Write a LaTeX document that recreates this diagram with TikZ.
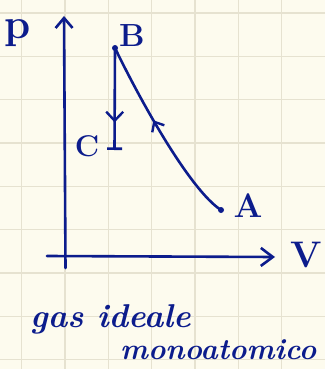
\documentclass[tikz,border=0pt]{standalone}
\usepackage{fontspec}
\setmainfont{Latin Modern Roman}
\usetikzlibrary{arrows.meta,decorations.markings}
\definecolor{paper}{RGB}{253,251,238}
\definecolor{gridc}{RGB}{230,226,208}
\definecolor{ink}{RGB}{12,28,140}
\tikzset{
  inkline/.style={draw=ink,line width=2.6pt,line cap=round,line join=round},
  gridline/.style={draw=gridc,line width=1.4pt},
  lbl/.style={text=ink,font=\bfseries\fontsize{#1}{#1}\selectfont,inner sep=0pt,anchor=base},
  note/.style={text=ink,font=\bfseries\itshape\fontsize{#1}{#1}\selectfont,inner sep=0pt,anchor=base west},
  dotpt/.style={circle,fill=ink,minimum size=6pt,inner sep=0pt},
  midarrow/.style={postaction={decorate,decoration={markings,mark=at position #1 with {\arrow[ink,line width=2.4pt]{Straight Barb[length=9pt,width=17pt]}}}}}
}
\begin{document}
\begin{tikzpicture}[x=1pt,y=-1pt]
\fill[paper] (0,0) rectangle (325,369);
\useasboundingbox (0,0) rectangle (325,369);
% grid
\foreach \gx in {21.7,65,108.3,151.7,195,238.3,281.7}
  \draw[gridline] (\gx,0) -- (\gx,369);
\foreach \gy in {13,56.3,99.7,143,186.3,229.7,273,316.3,359.7}
  \draw[gridline] (0,\gy) -- (325,\gy);
% axes
\coordinate (ybot) at (65.5,268);
\coordinate (ytop) at (64,16);
\coordinate (xleft) at (47,256);
\coordinate (xright) at (275,257);
\draw[inkline,-{Straight Barb[length=10pt,width=17pt]}] (ybot) -- (ytop);
\draw[inkline,-{Straight Barb[length=12pt,width=18pt]}] (xleft) -- (xright);
\node[lbl=42] (plab) at (18,38) {p};
\node[lbl=37] (vlab) at (306,267) {V};
% points
\node[dotpt] (B) at (115,48) {};
\coordinate (C) at (114.5,150);
\node[dotpt] (A) at (221,210) {};
\node[lbl=32] (blab) at (132,47) {B};
\node[lbl=30] (clab) at (87,156) {C};
\node[lbl=34] (alab) at (248,217) {A};
% B -> C
\draw[inkline,midarrow=0.73,-{Bar[width=15pt]}] (B.center) -- (C);
% A -> B
\draw[inkline,postaction={decorate,decoration={markings,mark=at position 0.58 with {\arrow[ink,line width=2.4pt]{Straight Barb[length=8pt,width=14pt]}}}}]
  (A.center) .. controls (190,190) and (140,100) .. (B.center);
% text
\node[note=33] (t1) at (30,327) {gas ideale};
\node[note=29.5] (t2) at (120,359) {monoatomico};
\end{tikzpicture}
\end{document}
